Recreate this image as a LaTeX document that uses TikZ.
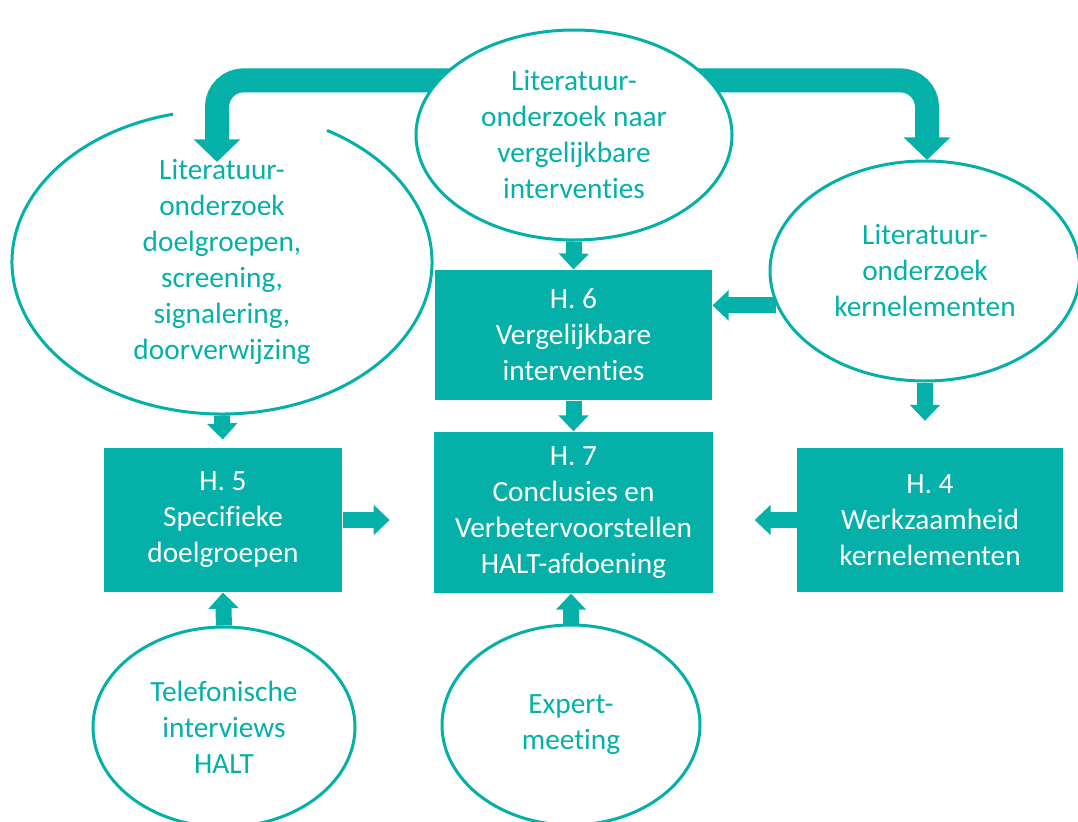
\documentclass[tikz,border=0pt]{standalone}
\usepackage{fontspec}
\setmainfont{Carlito}[Ligatures=CommonOff]
\usetikzlibrary{shapes.geometric, arrows.meta}
\definecolor{haltgroen}{RGB}{4,176,168}
\tikzset{every picture/.style={line width=0.75pt}}
\pgfdeclarelayer{background}
\pgfsetlayers{background,main}
\tikzset{
  oval/.style={ellipse, draw=haltgroen, line width=2.25pt, text=haltgroen, align=center, inner sep=0pt, font=\fontsize{22}{27}\selectfont},
  ovalline/.style={draw=haltgroen, line width=2.25pt},
  hbox/.style={rectangle, fill=haltgroen, text=white, align=center, inner sep=0pt, font=\fontsize{22}{27}\selectfont},
  flowarrow/.style={draw=haltgroen, line width=12pt, -{Triangle[width=22pt,length=12pt]}},
  bigarrow/.style={draw=haltgroen, line width=18pt, rounded corners=20pt, -{Triangle[width=34pt,length=17pt]}},
}

\begin{document}
\begin{tikzpicture}[x=0.75pt,y=0.75pt,yscale=-1]
\clip (0,0) rectangle (1078,821);

% Ellipses
\node[oval, fill=white, minimum width=237pt, minimum height=157.5pt] (litverg) at (574,135) {Literatuur-\\onderzoek naar\\vergelijkbare\\interventies};
\node[oval, draw=none, minimum width=315pt, minimum height=228pt] (litdoel) at (222,262) {Literatuur-\\onderzoek\\doelgroepen,\\screening,\\signalering,\\doorverwijzing};
\draw[ovalline] (litdoel.center) ++(-60:210 and 152) arc[start angle=-60, end angle=256.5, x radius=210, y radius=152];
\node[oval, minimum width=232.5pt, minimum height=165pt] (litkern) at (925,271) {Literatuur-\\onderzoek\\kernelementen};
\node[oval, minimum width=196.5pt, minimum height=150pt] (telint) at (224,727) {Telefonische\\interviews\\HALT};
\node[oval, minimum width=193.5pt, minimum height=150pt] (expert) at (571,725) {Expert-\\meeting};

% Chapters
\node[hbox, minimum width=207.75pt, minimum height=97.5pt] (h6) at (573.5,335) {H. 6\\Vergelijkbare\\interventies};
\node[hbox, minimum width=209pt, minimum height=121pt] (h7) at (573.5,512.5) {H. 7\\Conclusies en\\Verbetervoorstellen\\HALT-afdoening};
\node[hbox, minimum width=178.5pt, minimum height=108pt] (h5) at (223,520) {H. 5\\Specifieke\\doelgroepen};
\node[hbox, minimum width=199.5pt, minimum height=108pt] (h4) at (930,520) {H. 4\\Werkzaamheid\\kernelementen};

% Arrows
\draw[flowarrow] (litverg.south) -- (h6.north);
\draw[flowarrow] (h6.south) -- (h7.north);
\draw[flowarrow] (litkern.193) -- (litkern.193 -| h6.east);
\draw[flowarrow, shorten >=6pt] (litdoel.south) -- (h5.north);
\draw[flowarrow, shorten >=20pt] (litkern.south) -- (litkern.south |- h4.north);
\draw[flowarrow, shorten >=33pt] (h5.east) -- (h5.east -| h7.west);
\draw[flowarrow, shorten >=31pt] (h4.west) -- (h4.west -| h7.east);
\draw[flowarrow] (telint.north) -- (h5.south);
\draw[flowarrow] (expert.north) -- (expert.north |- h7.south);

% Bent arrows
\coordinate (tipL) at (217,162);
\coordinate (tipR) at (927,160);
\begin{pgfonlayer}{background}
\draw[bigarrow] ([yshift=-41pt]litverg.center) -| (tipL);
\draw[bigarrow] ([yshift=-41pt]litverg.center) -| (tipR);
\end{pgfonlayer}

\end{tikzpicture}
\end{document}
